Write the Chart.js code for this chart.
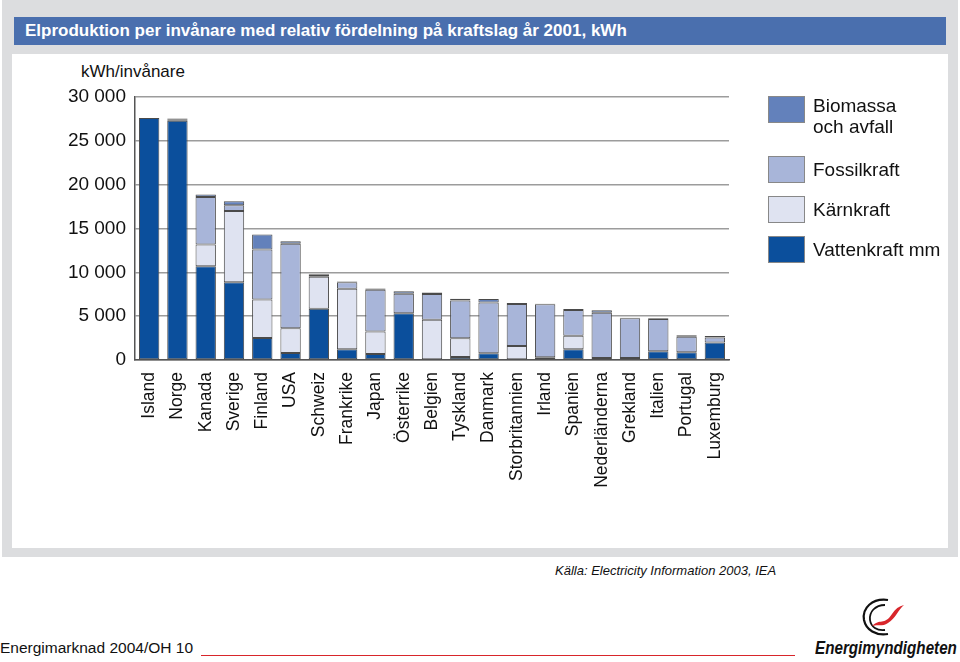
<!DOCTYPE html>
<html>
<head>
<meta charset="utf-8">
<script src="https://cdn.jsdelivr.net/npm/chart.js@4.4.0/dist/chart.umd.min.js"></script>
<style>
  body{margin:0;width:960px;height:662px;background:#fff;position:relative;overflow:hidden;font-family:"Liberation Sans",Arial,sans-serif}
  #frame{position:absolute;left:2px;top:0;width:956px;height:557px;background:#dcdddf}
  #panel{position:absolute;left:12px;top:54px;width:936px;height:494px;background:#fff}
  #titlebar{position:absolute;left:14px;top:17px;width:932px;height:28px;background:#4a6fae;color:#fff;font-weight:bold;font-size:17px;line-height:28px;padding-left:11px;box-sizing:border-box}
  #ytitle{position:absolute;left:81px;top:62px;font-size:17px;color:#111}
  #chartbox{position:absolute;left:0;top:0;width:960px;height:557px}
  #legend{position:absolute;left:768px;top:96px;font-size:19px;color:#111}
  .item{position:absolute;left:0;white-space:nowrap}
  .box{position:absolute;left:0;width:37px;height:27px;box-sizing:border-box;border:1px solid #888}
  .lbl{position:absolute;left:45px;line-height:21px}
  #source{position:absolute;left:555px;top:563px;font-size:13px;font-style:italic;color:#111}
  #footer{position:absolute;left:0;top:639px;font-size:15.5px;color:#111}
  #redline{position:absolute;left:201px;top:655px;width:594px;height:1px;background:#d8262b}
  #logo{position:absolute;left:815px;top:637px;font-size:19px;font-weight:bold;font-style:italic;color:#111;white-space:nowrap;transform:scaleX(0.8);transform-origin:left top}
  #mark{position:absolute;left:858px;top:596px}
</style>
</head>
<body>
<div id="frame"></div>
<div id="panel"></div>
<div id="titlebar">Elproduktion per invånare med relativ fördelning på kraftslag år 2001, kWh</div>
<div id="ytitle">kWh/invånare</div>
<div id="chartbox"><canvas id="data_chart" width="960" height="557"></canvas></div>
<div id="legend"></div>
<div id="source">Källa: Electricity Information 2003, IEA</div>
<div id="footer">Energimarknad 2004/OH 10</div>
<div id="redline"></div>
<svg id="mark" width="50" height="42" viewBox="0 0 50 42">
  <path d="M30 4 C14 2 4 12 6 24 C8 34 18 40 30 38" fill="none" stroke="#111" stroke-width="2.2"/>
  <path d="M27 9 C17 9 11 16 12 24 C13 31 19 35 27 34" fill="none" stroke="#111" stroke-width="1.8"/>
  <path d="M14 30 C22 22 26 30 34 18 C37 13 41 10 46 9 C40 14 38 22 30 27 C24 31 20 28 14 30 Z" fill="#d8262b"/>
</svg>
<div id="logo">Energimyndigheten</div>

<script>
// kWh per invanare, ar 2001
const countries=["Island","Norge","Kanada","Sverige","Finland","USA","Schweiz","Frankrike","Japan","Österrike","Belgien","Tyskland","Danmark","Storbritannien","Irland","Spanien","Nederländerna","Grekland","Italien","Portugal","Luxemburg"]
const vattenkraft=[27600,27300,10700,8880,2500,800,5850,1220,680,5320,80,340,760,80,300,1220,50,230,990,870,2010]
const karnkraft=[null,null,2470,8120,4400,2810,3640,6910,2580,null,4520,2130,null,1520,null,1560,190,null,null,null,null]
const fossilkraft=[null,150,5420,650,5700,9640,100,730,4750,2240,2920,4330,5810,4780,6070,2920,5160,4520,3680,1790,570]
const biomassa=[null,100,280,450,1710,300,200,100,150,270,190,190,380,110,60,110,270,80,80,150,150]
const yTicks=[0,5000,10000,15000,20000,25000,30000]
const seriesNames=["Vattenkraft mm","Kärnkraft","Fossilkraft","Biomassa\noch avfall"]

const colors=['#0b4f9c','#dfe3f1','#a8b5d9','#6381bb']
const series=[vattenkraft,karnkraft,fossilkraft,biomassa]

const datasets=[]
for(let i=0;i<series.length;i++){
  datasets.push({
    label:seriesNames[i],
    data:series[i],
    backgroundColor:colors[i],
    borderColor:'#4a4a4a',
    borderWidth:1,
    borderSkipped:false,
    barPercentage:0.72,
    categoryPercentage:1
  })
}

function fmt(v){
  return String(v).replace(/\B(?=(\d{3})+(?!\d))/g," ")
}

const data_chart=new Chart('data_chart',{
  type:'bar',
  data:{labels:countries,datasets:datasets},
  options:{
    responsive:false,
    animation:false,
    layout:{padding:{left:0,top:97,right:231,bottom:0}},
    plugins:{legend:{display:false},tooltip:{enabled:false}},
    scales:{
      x:{
        stacked:true,
        grid:{display:false},
        border:{display:true,color:'#555',width:1.5},
        ticks:{autoSkip:false,maxRotation:90,minRotation:90,padding:4,color:'#111',font:{family:'"Liberation Sans", Arial',size:17.5}},
        afterFit:function(s){s.height=197}
      },
      y:{
        stacked:true,
        min:0,max:30000,
        afterBuildTicks:function(s){s.ticks=yTicks.map(v=>({value:v}))},
        grid:{color:'#9c9c9c',lineWidth:1.5,drawTicks:false},
        border:{display:true,color:'#555',width:1.5},
        ticks:{padding:9,color:'#111',font:{family:'"Liberation Sans", Arial',size:19},callback:v=>fmt(v)},
        afterFit:function(s){s.width=135}
      }
    }
  }
})

// legend, top to bottom: biomassa, fossil, karn, vatten
const legend=document.getElementById("legend")
const tops=[140,100,60,0]
for(let i=series.length-1;i>=0;i--){
  let lines=seriesNames[i].split("\n")
  let skeleton="<div class='item' style='top:"+tops[i]+"px'>"
  skeleton+="<div class='box' style='background:"+colors[i]+"'></div>"
  let lt=lines.length>1?-1:3
  skeleton+="<div class='lbl' style='top:"+lt+"px'>"+lines.join("<br>")+"</div>"
  skeleton+="</div>"
  legend.innerHTML+=skeleton
}
</script>
</body>
</html>
